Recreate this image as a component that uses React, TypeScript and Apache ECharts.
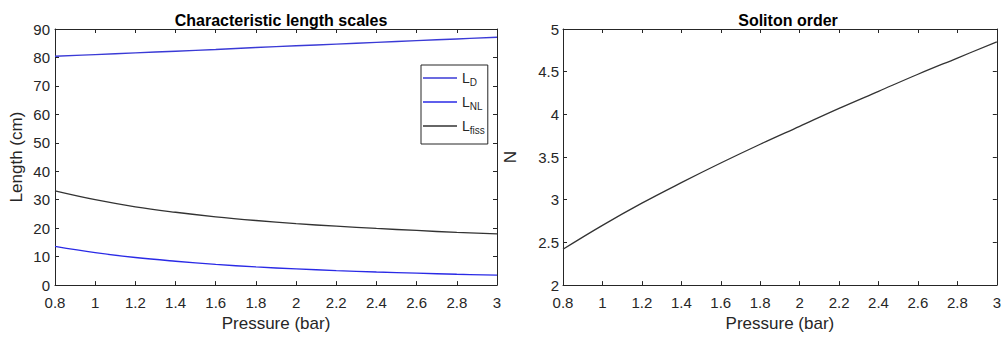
import React, { useEffect, useRef } from "react";
import * as echarts from "echarts";

const pressure = [0.8, 1, 1.2, 1.4, 1.6, 1.8, 2, 2.2, 2.4, 2.6, 2.8, 3];
const lD = [80.4, 81.0, 81.6, 82.2, 82.8, 83.5, 84.1, 84.7, 85.3, 85.9, 86.5, 87.1];
const lNL = [13.6, 11.4, 9.7, 8.4, 7.3, 6.4, 5.7, 5.1, 4.6, 4.2, 3.8, 3.5];
const lFiss = [33.1, 30.0, 27.5, 25.6, 24.0, 22.7, 21.6, 20.7, 19.9, 19.2, 18.5, 18.0];
const solitonN = [2.42, 2.70, 2.96, 3.20, 3.43, 3.65, 3.86, 4.07, 4.27, 4.47, 4.66, 4.85];

const xTicks = { min: 0.8, max: 3, interval: 0.2 };
const leftTitle = "Characteristic length scales";
const rightTitle = "Soliton order";

const FONT = "Liberation Sans, Arial, sans-serif";
const AX = "#262626";

const pairs = (ys: number[]) => pressure.map((x, i) => [x, ys[i]]);

export default function App() {
  const ref = useRef<HTMLDivElement>(null);
  useEffect(() => {
    if (!ref.current) return;
    const chart = echarts.init(ref.current, null, { renderer: "svg" });
    const fmtX = (v: number) => String(Math.round(v * 10) / 10);
    const xBase = (gi: number) => ({
      type: "value",
      gridIndex: gi,
      min: xTicks.min,
      max: xTicks.max,
      interval: xTicks.interval,
      axisLine: { show: true, onZero: false, lineStyle: { color: AX, width: 1 } },
      axisTick: { show: true, inside: true, length: 4, lineStyle: { color: AX } },
      splitLine: { show: false },
    });
    const xBottom = (gi: number) => ({
      ...xBase(gi),
      position: "bottom",
      name: "Pressure (bar)",
      nameLocation: "middle",
      nameGap: 28,
      nameTextStyle: { fontFamily: FONT, fontSize: 17, color: AX },
      axisLabel: { fontFamily: FONT, fontSize: 15, lineHeight: 16, color: AX, margin: 9, formatter: fmtX },
    });
    const xTop = (gi: number) => ({
      ...xBase(gi),
      position: "top",
      axisLabel: { show: false },
    });
    const yBase = (gi: number, min: number, max: number, interval: number) => ({
      type: "value",
      gridIndex: gi,
      min,
      max,
      interval,
      axisLine: { show: true, onZero: false, lineStyle: { color: AX, width: 1 } },
      axisTick: { show: true, inside: true, length: 4, lineStyle: { color: AX } },
      splitLine: { show: false },
    });
    const option: any = {
      animation: false,
      backgroundColor: "#ffffff",
      title: [
        {
          text: leftTitle,
          left: 276,
          top: 7,
          textAlign: "center",
          textStyle: { fontFamily: FONT, fontSize: 16, fontWeight: "bold", color: "#000" },
        },
        {
          text: rightTitle,
          left: 783,
          top: 7,
          textAlign: "center",
          textStyle: { fontFamily: FONT, fontSize: 16, fontWeight: "bold", color: "#000" },
        },
      ],
      grid: [
        { left: 55, top: 29, width: 442, height: 261 },
        { left: 563, top: 29, width: 440, height: 261 },
      ],
      xAxis: [xBottom(0), xTop(0), xBottom(1), xTop(1)],
      yAxis: [
        {
          ...yBase(0, 0, 90, 10),
          position: "left",
          name: "Length (cm)",
          nameLocation: "middle",
          nameGap: 30,
          nameTextStyle: { fontFamily: FONT, fontSize: 17, color: AX },
          axisLabel: { fontFamily: FONT, fontSize: 15, lineHeight: 14, color: AX, margin: 5 },
        },
        { ...yBase(0, 0, 90, 10), position: "right", axisLabel: { show: false } },
        {
          ...yBase(1, 2, 5, 0.5),
          position: "left",
          name: "N",
          nameLocation: "middle",
          nameGap: 44,
          nameTextStyle: { fontFamily: FONT, fontSize: 17, color: AX },
          axisLabel: { fontFamily: FONT, fontSize: 15, lineHeight: 14, color: AX, margin: 4 },
        },
        { ...yBase(1, 2, 5, 0.5), position: "right", axisLabel: { show: false } },
      ],
      legend: {
        left: 421,
        top: 65,
        orient: "vertical",
        data: ["L_D", "L_NL", "L_fiss"],
        backgroundColor: "#fff",
        borderColor: AX,
        borderWidth: 1,
        borderRadius: 0,
        padding: [6, 3, 9, 2],
        itemGap: 8,
        itemWidth: 34,
        itemHeight: 1.5,
        icon: "rect",
        formatter: (name: string) => {
          const sub = name.split("_")[1];
          return "{base|L}{sub|" + sub + "}";
        },
        textStyle: {
          fontFamily: FONT,
          color: AX,
          rich: {
            base: { fontFamily: FONT, fontSize: 14, color: AX, lineHeight: 20 },
            sub: { fontFamily: FONT, fontSize: 10, color: AX, padding: [8, 0, 0, 0] },
          },
        },
      },
      series: [
        {
          name: "L_D",
          type: "line",
          xAxisIndex: 0,
          yAxisIndex: 0,
          data: pairs(lD),
          smooth: 0.4,
          showSymbol: false,
          symbol: "none",
          lineStyle: { color: "#3a3ad6", width: 1.4 },
          itemStyle: { color: "#3a3ad6" },
        },
        {
          name: "L_NL",
          type: "line",
          xAxisIndex: 0,
          yAxisIndex: 0,
          data: pairs(lNL),
          smooth: 0.4,
          showSymbol: false,
          symbol: "none",
          lineStyle: { color: "#2a2ae6", width: 1.4 },
          itemStyle: { color: "#2a2ae6" },
        },
        {
          name: "L_fiss",
          type: "line",
          xAxisIndex: 0,
          yAxisIndex: 0,
          data: pairs(lFiss),
          smooth: 0.4,
          showSymbol: false,
          symbol: "none",
          lineStyle: { color: "#333333", width: 1.3 },
          itemStyle: { color: "#333333" },
        },
        {
          name: "N",
          type: "line",
          xAxisIndex: 2,
          yAxisIndex: 2,
          data: pairs(solitonN),
          smooth: 0.4,
          showSymbol: false,
          symbol: "none",
          lineStyle: { color: "#333333", width: 1.3 },
          itemStyle: { color: "#333333" },
        },
      ],
    };
    chart.setOption(option);
    return () => chart.dispose();
  }, []);
  return (
    <div
      ref={ref}
      style={{ position: "fixed", left: 0, top: 0, width: 1004, height: 337, background: "#fff" }}
    />
  );
}
